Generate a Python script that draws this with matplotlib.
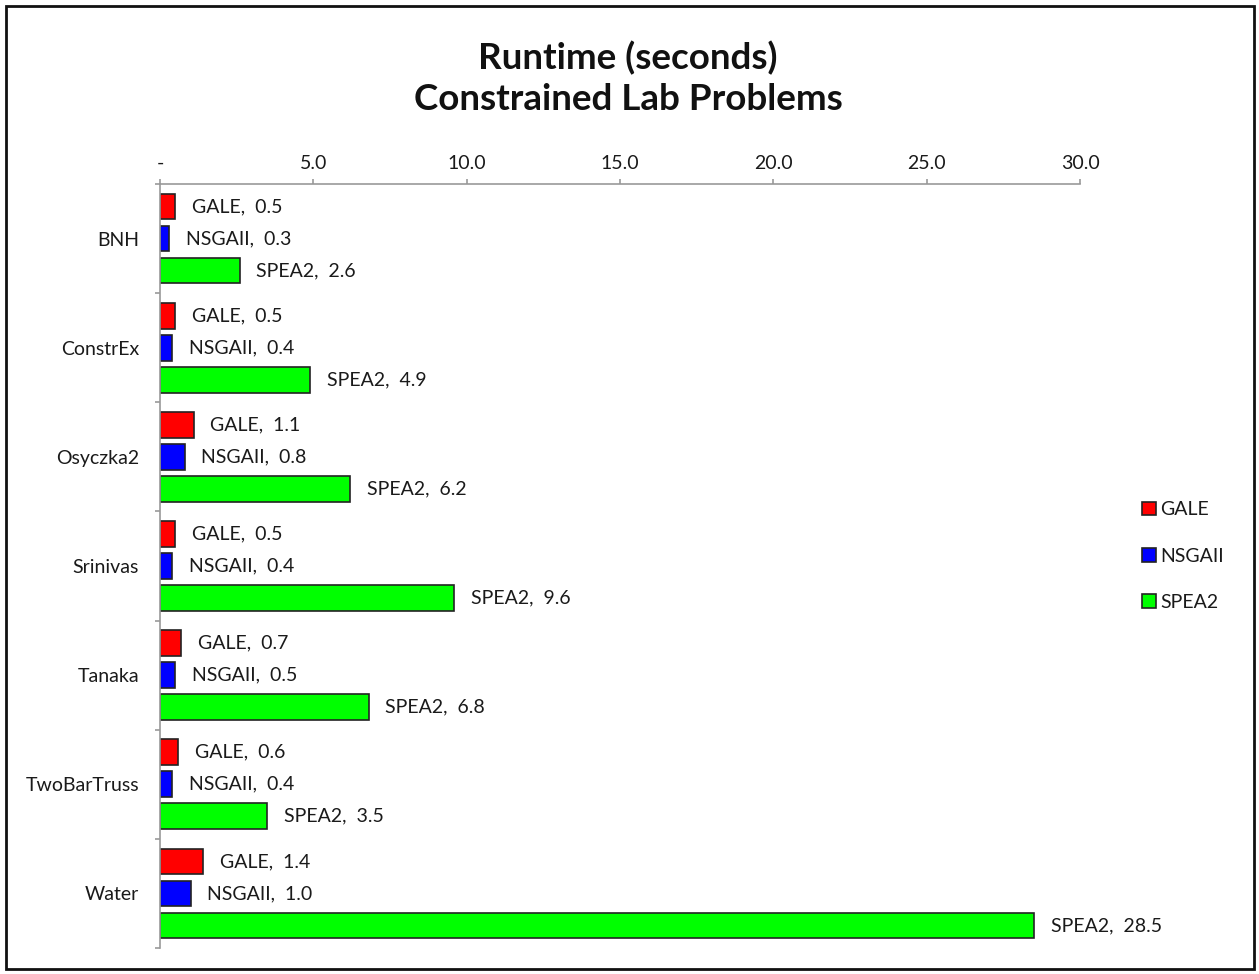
import numpy as np
import matplotlib.pyplot as plt
from matplotlib.patches import Rectangle

problems = ['BNH', 'ConstrEx', 'Osyczka2', 'Srinivas', 'Tanaka', 'TwoBarTruss', 'Water']
gale = [0.5, 0.5, 1.1, 0.5, 0.7, 0.6, 1.4]
nsgaii = [0.3, 0.4, 0.8, 0.4, 0.5, 0.4, 1.0]
spea2 = [2.6, 4.9, 6.2, 9.6, 6.8, 3.5, 28.5]
series = [('GALE', gale, '#ff0000'), ('NSGAII', nsgaii, '#0000ff'), ('SPEA2', spea2, '#00ff00')]
xticks = [0, 5, 10, 15, 20, 25, 30]

plt.rcParams['font.family'] = ['Lato', 'DejaVu Sans']
txt = '#1a1a1a'
fs = 14
W, H = 1259, 974
fig = plt.figure(figsize=(W / 100, H / 100), dpi=100)
ax = fig.add_axes([160 / W, 1 - 948 / H, 920 / W, (948 - 184) / H])

# outer frame round the whole chart
fig.patches.append(Rectangle((6 / W, 5 / H), 1248 / W, 963 / H, transform=fig.transFigure,
                             fill=False, edgecolor='#111111', linewidth=2))

y = np.arange(len(problems))
pitch = 0.293
for k, (name, vals, col) in enumerate(series):
    pos = y + (k - 1) * pitch
    ax.barh(pos, vals, height=0.235, color=col, edgecolor='#222222', linewidth=1.2, label=name)
    # "NAME,  value" label right of each bar
    for p, v in zip(pos, vals):
        ax.annotate('%s,  %.1f' % (name, v), xy=(v, p), xytext=(12, 0), textcoords='offset points',
                    ha='left', va='center', fontsize=fs, color=txt)

ax.set_xlim(0, 30)
ax.set_ylim(len(problems) - 0.5, -0.5)
ax.xaxis.tick_top()
ax.set_xticks(xticks)
ax.set_xticklabels(['-'] + ['%.1f' % t for t in xticks[1:]], fontsize=fs, color=txt)
ax.tick_params(axis='x', length=3.5, color='#999999', width=1.2, pad=5)
ax.set_yticks(y)
ax.set_yticklabels(problems, fontsize=fs, color=txt)
ax.set_yticks(np.arange(len(problems) + 1) - 0.5, minor=True)
ax.tick_params(axis='y', which='major', length=0, pad=15)
ax.tick_params(axis='y', which='minor', length=3.5, color='#999999', width=1.2)
for s in ['right', 'bottom']:
    ax.spines[s].set_visible(False)
for s in ['top', 'left']:
    ax.spines[s].set_color('#999999')
    ax.spines[s].set_linewidth(1.2)

fig.text(628 / W, 1 - 69 / H, 'Runtime (seconds)', ha='center', va='baseline',
         fontsize=26.5, fontweight='bold', color='#111111')
fig.text(628 / W, 1 - 110 / H, 'Constrained Lab Problems', ha='center', va='baseline',
         fontsize=26.5, fontweight='bold', color='#111111')

leg = fig.legend(loc='center left', bbox_to_anchor=(1124 / W, 1 - 556 / H), frameon=False,
                 fontsize=fs, handlelength=0.72, handleheight=0.72, handletextpad=0.26,
                 labelspacing=1.5)
for t in leg.get_texts():
    t.set_color(txt)

fig.savefig('out.png', dpi=100)
